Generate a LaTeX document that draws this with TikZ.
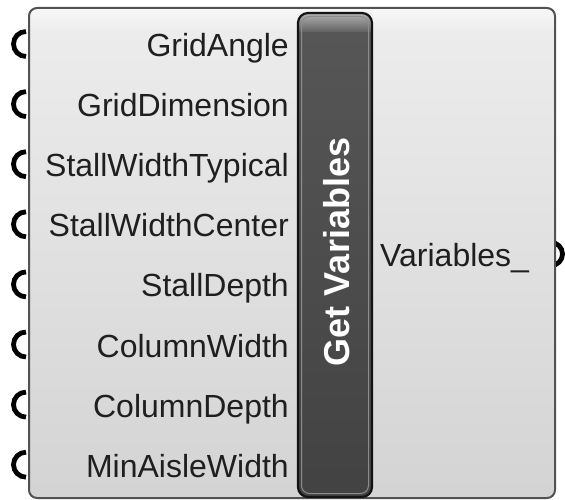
\documentclass[tikz,border=0pt]{standalone}
\usepackage{fontspec}
\setmainfont{Liberation Sans}
\begin{document}
\begin{tikzpicture}[x=1pt,y=-1pt,
  lbl/.style={font=\fontsize{32}{32}\selectfont, text=black!88, inner sep=0pt, anchor=base east},
  outlbl/.style={font=\fontsize{32}{32}\selectfont, text=black!88, inner sep=0pt, anchor=base west},
  grip/.style={line width=4.8pt, black},
  title/.style={font=\fontsize{36}{36}\selectfont\bfseries, text=white, rotate=90, inner sep=0pt}]
\useasboundingbox (0,0) rectangle (565,500);
% grips
\foreach \i/\y in {1/44,2/104.1,3/164.2,4/224.3,5/284.4,6/344.5,7/404.6,8/464.7}{
  \draw[grip] (26,\y+12.5) arc[start angle=90, end angle=270, radius=12.5];
}
\draw[grip] (551,265.5) arc[start angle=90, end angle=-90, radius=11.5];
% body
\shade[rounded corners=8pt, top color=black!7, bottom color=black!17] (29,8) rectangle (555,498);
\begin{scope}
\clip[rounded corners=8pt] (29,8) rectangle (555,498);
\shade[top color=black!3, bottom color=black!7] (29,8) rectangle (555,30);
\end{scope}
\draw[line width=2pt, black!68, rounded corners=8pt] (29,8) rectangle (555,498);
% bar
\shade[rounded corners=10pt, top color=black!66, bottom color=black!74] (298,13) rectangle (372,497);
\begin{scope}
\clip[rounded corners=10pt] (298,13) rectangle (372,497);
\shade[top color=black!30, bottom color=black!62] (298,13) rectangle (372,32);
\end{scope}
\draw[line width=1pt, black!45, rounded corners=8pt] (301.5,16.5) rectangle (368.5,493.5);
\draw[line width=2.2pt, black!92, rounded corners=10pt] (298,13) rectangle (372,497);
\node[title] (t) at (337,252) {Get Variables};
% labels
\node[lbl] (a) at (289,56.5) {GridAngle};
\node[lbl] (b) at (289,116.6) {GridDimension};
\node[lbl] (c) at (289,176.7) {StallWidthTypical};
\node[lbl] (d) at (289,236.8) {StallWidthCenter};
\node[lbl] (e) at (289,296.9) {StallDepth};
\node[lbl] (f) at (289,357) {ColumnWidth};
\node[lbl] (g) at (289,417.1) {ColumnDepth};
\node[lbl] (h) at (289,477.2) {MinAisleWidth};
\node[outlbl] (v) at (380,266) {Variables\_};
\end{tikzpicture}
\end{document}
